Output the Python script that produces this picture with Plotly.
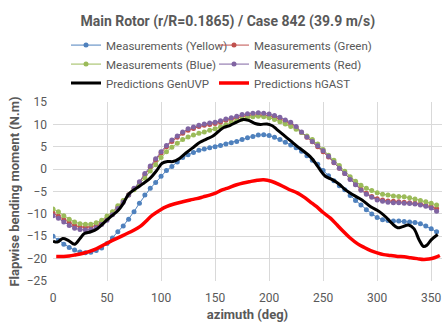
import plotly.graph_objects as go

azimuth_meas = list(range(0, 360, 5))

meas_yellow = [-15.0, -15.9, -16.8, -17.5, -18.1, -18.5, -18.7, -18.6, -18.2, -17.6,
               -16.6, -15.4, -14.0, -12.7, -11.2, -9.5, -7.6, -5.8, -4.3, -3.0,
               -1.6, -0.3, 0.6, 1.6, 2.6, 3.2, 3.7, 4.2, 4.5, 4.8,
               5.0, 5.3, 5.6, 5.9, 6.2, 6.6, 7.0, 7.3, 7.6, 7.7,
               7.5, 7.1, 6.6, 6.0, 5.4, 4.8, 4.0, 3.0, 2.0, 1.1,
               -0.3, -1.5, -2.6, -3.7, -4.6, -5.9, -7.0, -8.0, -9.1, -10.0,
               -10.8, -11.3, -11.5, -11.6, -11.6, -11.7, -11.8, -11.9, -12.2, -12.7,
               -13.3, -14.0]

meas_green = [-9.8, -10.5, -11.3, -12.0, -12.6, -12.9, -13.0, -12.9, -12.6, -11.9,
              -11.0, -9.9, -8.5, -7.1, -5.7, -4.4, -3.0, -1.3, 0.4, 2.0,
              3.6, 5.0, 6.2, 7.1, 8.0, 8.7, 9.1, 9.5, 9.8, 10.0,
              10.2, 10.5, 10.9, 11.2, 11.5, 11.8, 12.0, 12.1, 12.1, 12.0,
              11.9, 11.6, 11.2, 10.7, 10.1, 9.3, 8.2, 7.1, 6.1, 5.0,
              3.9, 2.7, 1.4, 0.2, -1.0, -2.2, -3.4, -4.5, -5.4, -6.1,
              -6.6, -6.9, -7.1, -7.2, -7.3, -7.4, -7.5, -7.6, -7.8, -8.1,
              -8.4, -8.8]

meas_blue = [-8.9, -9.5, -10.4, -11.2, -11.8, -12.2, -12.3, -12.3, -12.0, -11.4,
             -10.5, -9.5, -8.2, -7.0, -5.8, -4.6, -3.3, -2.0, -0.4, 1.0,
             2.6, 3.9, 4.9, 5.8, 6.6, 7.2, 7.6, 8.0, 8.3, 8.7,
             9.0, 9.4, 9.9, 10.4, 10.8, 11.2, 11.5, 11.7, 11.8, 11.7,
             11.5, 11.1, 10.6, 10.1, 9.5, 8.9, 8.2, 7.4, 6.6, 5.6,
             4.4, 3.1, 2.0, 0.8, -0.5, -1.7, -2.7, -3.6, -4.3, -4.8,
             -5.3, -5.6, -5.8, -6.0, -6.1, -6.2, -6.4, -6.7, -7.0, -7.3,
             -7.6, -8.0]

meas_red = [-10.4, -11.0, -11.8, -12.6, -13.2, -13.5, -13.6, -13.5, -13.1, -12.4,
            -11.4, -10.2, -8.8, -7.4, -5.8, -4.3, -2.8, -1.0, 0.7, 2.3,
            3.9, 5.3, 6.5, 7.4, 8.3, 9.0, 9.4, 9.8, 10.1, 10.3,
            10.5, 10.8, 11.2, 11.5, 11.8, 12.2, 12.4, 12.5, 12.6, 12.5,
            12.3, 12.0, 11.6, 11.0, 10.5, 9.5, 8.3, 7.2, 6.2, 5.2,
            4.1, 2.9, 1.5, 0.2, -1.0, -2.3, -3.5, -4.7, -5.6, -6.3,
            -6.9, -7.2, -7.4, -7.5, -7.5, -7.6, -7.7, -7.8, -8.0, -8.3,
            -8.7, -9.4]

azimuth_genuvp = [0, 4, 9, 14, 20, 25, 29, 35, 41, 48, 54, 60, 65, 70, 77, 83, 90, 96,
                  101, 106, 111, 117, 123, 130, 136, 142, 148, 153, 158, 164, 170,
                  176, 181, 187, 192, 198, 203, 207, 213, 220, 226, 232, 238, 243,
                  247, 252, 258, 264, 271, 278, 286, 294, 302, 308, 314, 319, 323,
                  329, 334, 339, 343, 346, 350, 356]
pred_genuvp = [-16.1, -16.3, -15.5, -15.9, -16.8, -15.5, -14.4, -14.0, -13.3, -11.8,
               -10.5, -9.3, -7.7, -5.6, -4.3, -3.3, -2.0, -0.3, 1.3, 1.7, 1.7, 2.4,
               3.6, 4.9, 6.0, 6.7, 7.4, 8.4, 9.3, 9.8, 10.5, 11.1, 10.9, 10.2, 10.0,
               10.1, 9.7, 8.9, 7.7, 6.3, 5.1, 4.0, 2.8, 1.3, -0.1, -1.6, -2.3, -3.2,
               -4.7, -5.8, -6.9, -8.4, -9.5, -10.7, -12.2, -13.1, -12.9, -12.5,
               -13.3, -15.9, -17.3, -17.0, -15.8, -14.6]

azimuth_hgast = [3, 10, 15, 20, 28, 40, 52, 65, 80, 92, 100, 105, 112, 120, 127, 133,
                 139, 145, 151, 156, 161, 170, 176, 182, 189, 195, 202, 210, 218, 226,
                 232, 238, 244, 250, 257, 263, 269, 275, 282, 288, 294, 300, 306, 312,
                 319, 325, 331, 337, 343, 348, 353, 358]
pred_hgast = [-19.5, -19.5, -19.4, -19.2, -18.8, -17.8, -16.3, -14.8, -12.9, -10.3,
              -9.0, -8.4, -7.8, -7.3, -6.9, -6.6, -6.2, -5.8, -5.3, -4.7, -4.3, -3.5,
              -3.1, -2.8, -2.5, -2.4, -2.7, -3.5, -4.5, -5.3, -6.2, -7.3, -8.4, -9.7,
              -11.0, -12.5, -14.0, -15.4, -16.7, -17.5, -18.2, -18.7, -19.1, -19.3,
              -19.5, -19.6, -19.8, -20.0, -20.2, -20.1, -19.8, -19.3]

FONT = "Roboto"
GRAY = "#595959"
W, H = 444, 322
ML, MR = 53, 2
PW = W - ML - MR

fig = go.Figure()
meas = [
    ("Measurements (Yellow)", meas_yellow, "#4F81BD", "legend"),
    ("Measurements (Green)", meas_green, "#C0504D", "legend2"),
    ("Measurements (Blue)", meas_blue, "#9BBB59", "legend"),
    ("Measurements (Red)", meas_red, "#8064A2", "legend2"),
]
for name, vals, col, lg in meas:
    fig.add_trace(go.Scatter(x=azimuth_meas, y=vals, name=name, mode="lines+markers",
                             line=dict(color=col, width=1), legend=lg,
                             marker=dict(color=col, size=5)))
fig.add_trace(go.Scatter(x=azimuth_genuvp, y=pred_genuvp, name="Predictions GenUVP",
                         mode="lines", legend="legend",
                         line=dict(color="black", width=3, shape="spline")))
fig.add_trace(go.Scatter(x=azimuth_hgast, y=pred_hgast, name="Predictions hGAST",
                         mode="lines", legend="legend2",
                         line=dict(color="#FF0000", width=3.5, shape="spline")))

leg_common = dict(orientation="v", xanchor="left", yref="container",
                  yanchor="top", traceorder="normal", itemwidth=30, tracegroupgap=0,
                  font=dict(family=FONT, size=11.5, color=GRAY), bgcolor="rgba(0,0,0,0)")

fig.update_layout(
    width=W, height=H,
    margin=dict(l=ML, r=MR, t=102, b=41, autoexpand=False),
    paper_bgcolor="white", plot_bgcolor="white",
    font=dict(family=FONT, size=11, color=GRAY),
    title=dict(text="<b>Main Rotor (r/R=0.1865) / Case 842 (39.9 m/s)</b>",
               x=0.513, xanchor="center", y=0.935, yanchor="middle",
               font=dict(family=FONT, size=14, color=GRAY)),
    legend=dict(x=(66 - ML) / PW, y=0.905, **leg_common),
    legend2=dict(x=(214 - ML) / PW, y=0.905, **leg_common),
    showlegend=True,
)
fig.update_xaxes(range=[0, 360], tick0=0, dtick=50, showgrid=True, gridcolor="#D9D9D9",
                 gridwidth=1, zeroline=False, showline=False, ticks="",
                 ticklabelstandoff=8, automargin=False,
                 tickfont=dict(family=FONT, size=12, color=GRAY),
                 title=dict(text="<b>azimuth (deg)</b>", standoff=5,
                            font=dict(family=FONT, size=13, color=GRAY)))
fig.update_yaxes(range=[-25, 15], tick0=-25, dtick=5, showgrid=True, gridcolor="#D9D9D9",
                 gridwidth=1, zeroline=False, showline=False, ticks="",
                 ticklabelstandoff=5, automargin=False,
                 tickfont=dict(family=FONT, size=12, color=GRAY),
                 title=dict(text="<b>Flapwise bending moment (N.m)</b>", standoff=4,
                            font=dict(family=FONT, size=13, color=GRAY)))

fig.write_html("out.html")
